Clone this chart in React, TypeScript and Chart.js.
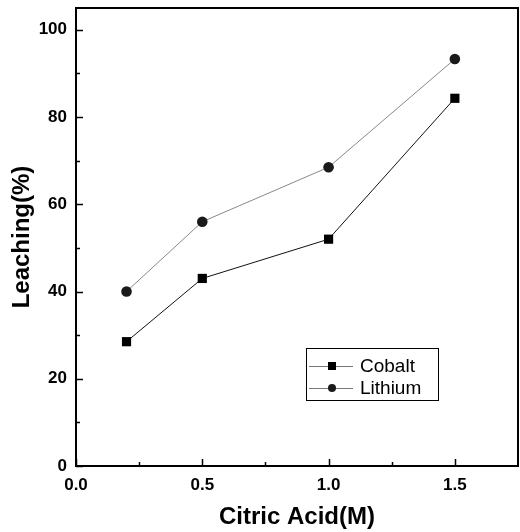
import React, { useEffect, useRef } from "react";
import { Chart, registerables } from "chart.js";

Chart.register(...registerables);

const concentrations = [0.2, 0.5, 1.0, 1.5];
const cobaltLeaching = [28.5, 43, 52, 84.3];
const lithiumLeaching = [40, 56, 68.5, 93.3];
const xMajorTicks = [0, 0.5, 1.0, 1.5];
const xMinorTicks = [0.25, 0.75, 1.25];
const yMajorTicks = [0, 20, 40, 60, 80, 100];
const yMinorTicks = [10, 30, 50, 70, 90];

const FONT = "'Liberation Sans', Arial, Helvetica, sans-serif";

const framePlugin = {
  id: "frameAndTicks",
  afterDatasetsDraw(chart: any) {
    const { ctx, chartArea, scales } = chart;
    const { left, right, top, bottom } = chartArea;
    const xs = scales.x;
    const ys = scales.y;
    ctx.save();
    ctx.strokeStyle = "#000";
    ctx.lineWidth = 2;
    ctx.strokeRect(left, top, right - left, bottom - top);
    ctx.lineWidth = 1.5;
    ctx.beginPath();
    xMajorTicks.forEach((v) => {
      const px = Math.round(xs.getPixelForValue(v)) + 0.5;
      ctx.moveTo(px, bottom);
      ctx.lineTo(px, bottom - 7);
    });
    xMinorTicks.forEach((v) => {
      const px = Math.round(xs.getPixelForValue(v)) + 0.5;
      ctx.moveTo(px, bottom);
      ctx.lineTo(px, bottom - 4);
    });
    yMajorTicks.forEach((v) => {
      const py = Math.round(ys.getPixelForValue(v)) + 0.5;
      ctx.moveTo(left, py);
      ctx.lineTo(left + 7, py);
    });
    yMinorTicks.forEach((v) => {
      const py = Math.round(ys.getPixelForValue(v)) + 0.5;
      ctx.moveTo(left, py);
      ctx.lineTo(left + 4, py);
    });
    ctx.stroke();
    ctx.restore();
  },
  afterDraw(chart: any) {
    const { ctx } = chart;
    const boxX = 306;
    const boxY = 348;
    const boxW = 132;
    const boxH = 52;
    ctx.save();
    ctx.fillStyle = "#fff";
    ctx.fillRect(boxX, boxY, boxW, boxH);
    ctx.strokeStyle = "#000";
    ctx.lineWidth = 1;
    ctx.strokeRect(boxX + 0.5, boxY + 0.5, boxW, boxH);
    chart.data.datasets.forEach((ds: any, i: number) => {
      const cy = boxY + 18 + i * 22;
      ctx.strokeStyle = "#777";
      ctx.lineWidth = 1;
      ctx.beginPath();
      ctx.moveTo(boxX + 3, cy + 0.5);
      ctx.lineTo(boxX + 47, cy + 0.5);
      ctx.stroke();
      ctx.fillStyle = ds.pointBackgroundColor;
      ctx.beginPath();
      if (ds.pointStyle === "rect") {
        ctx.rect(boxX + 26 - 4, cy - 4, 8, 8);
      } else {
        ctx.arc(boxX + 26, cy, 4, 0, Math.PI * 2);
      }
      ctx.fill();
      ctx.fillStyle = "#000";
      ctx.font = `19px ${FONT}`;
      ctx.textBaseline = "middle";
      ctx.textAlign = "left";
      ctx.fillText(ds.label, boxX + 54, cy + 1);
    });
    ctx.restore();
  },
};

export default function App() {
  const canvasRef = useRef<HTMLCanvasElement | null>(null);

  useEffect(() => {
    document.body.style.margin = "0";
    const canvas = canvasRef.current;
    if (!canvas) return;
    const chart = new Chart(canvas, {
      type: "line",
      data: {
        datasets: [
          {
            label: "Cobalt",
            data: concentrations.map((x, i) => ({ x, y: cobaltLeaching[i] })),
            borderColor: "#111",
            borderWidth: 1,
            pointStyle: "rect",
            pointRadius: 6.5,
            pointBackgroundColor: "#000",
            pointBorderColor: "#000",
            pointBorderWidth: 0,
            tension: 0,
          },
          {
            label: "Lithium",
            data: concentrations.map((x, i) => ({ x, y: lithiumLeaching[i] })),
            borderColor: "#888",
            borderWidth: 1,
            pointStyle: "circle",
            pointRadius: 5.3,
            pointBackgroundColor: "#1a1a1a",
            pointBorderColor: "#1a1a1a",
            pointBorderWidth: 0,
            tension: 0,
          },
        ],
      },
      options: {
        responsive: false,
        animation: false,
        layout: { autoPadding: false, padding: { top: 8, right: 2, left: 0, bottom: 0 } },
        plugins: {
          legend: { display: false },
          tooltip: { enabled: false },
        },
        scales: {
          x: {
            type: "linear",
            min: 0,
            max: 1.75,
            grid: { display: false, drawTicks: false },
            border: { display: false },
            afterBuildTicks: (scale: any) => {
              scale.ticks = xMajorTicks.map((v) => ({ value: v }));
            },
            afterFit: (scale: any) => {
              scale.height = 66;
              scale.paddingLeft = 0;
              scale.paddingRight = 0;
            },
            ticks: {
              color: "#000",
              padding: 9,
              font: { family: FONT, size: 17, weight: "bold" },
              callback: (v: any) => Number(v).toFixed(1),
              maxRotation: 0,
            },
            title: {
              display: true,
              text: "Citric Acid(M)",
              color: "#000",
              font: { family: FONT, size: 24, weight: "bold" },
              padding: { top: 0, bottom: 0 },
            },
          },
          y: {
            type: "linear",
            min: 0,
            max: 105,
            grid: { display: false, drawTicks: false },
            border: { display: false },
            afterBuildTicks: (scale: any) => {
              scale.ticks = yMajorTicks.map((v) => ({ value: v }));
            },
            afterFit: (scale: any) => {
              scale.width = 76;
              scale.paddingTop = 0;
              scale.paddingBottom = 0;
            },
            ticks: {
              color: "#000",
              padding: 9,
              font: { family: FONT, size: 17, weight: "bold" },
            },
            title: {
              display: true,
              text: "Leaching(%)",
              color: "#000",
              font: { family: FONT, size: 24, weight: "bold" },
              padding: { top: 8, bottom: 0 },
            },
          },
        },
      },
      plugins: [framePlugin],
    });
    return () => chart.destroy();
  }, []);

  return (
    <div style={{ width: 520, height: 532 }}>
      <canvas ref={canvasRef} width={520} height={532} style={{ display: "block" }} />
    </div>
  );
}
